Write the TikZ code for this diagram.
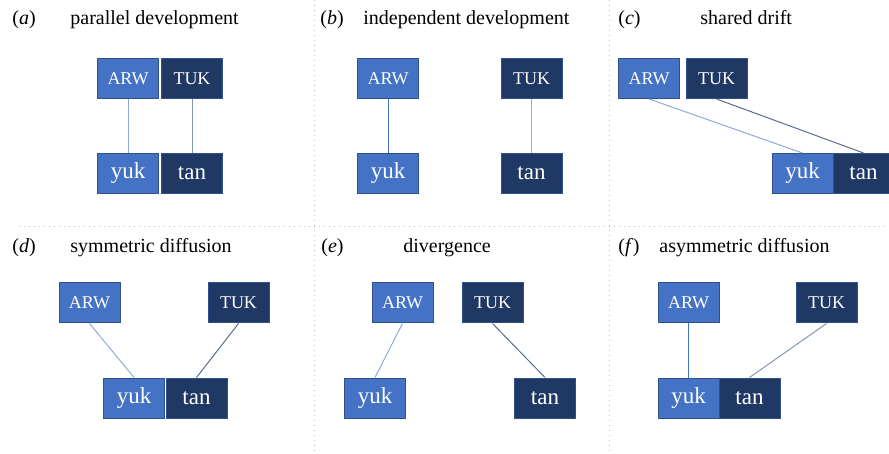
\documentclass[tikz,border=0pt]{standalone}
\usepackage{fontspec}
\setmainfont{Liberation Serif}
\usepackage{tikz}

\definecolor{arwblue}{HTML}{4472C4}
\definecolor{tuknavy}{HTML}{203864}
\definecolor{boxedge}{HTML}{2F528F}
\definecolor{lightline}{HTML}{8FAADC}
\definecolor{greyline}{HTML}{8497B0}
\definecolor{darkline}{HTML}{5A6B8C}
\definecolor{divider}{HTML}{BFBFBF}

\begin{document}
\begin{tikzpicture}[x=0.5pt,y=-0.5pt,
	lang/.style={draw=boxedge, line width=0.5pt, text=white, inner sep=0pt,
		minimum width=30.5pt, minimum height=20pt},
	old/.style={lang, font=\fontsize{9}{10}\selectfont},
	new/.style={lang, font=\fontsize{11.5}{12}\selectfont},
	arw/.style={fill=arwblue},
	tuk/.style={fill=tuknavy},
	panel/.style={anchor=base west, inner sep=0pt, font=\fontsize{10}{12}\selectfont},
	link/.style={line width=0.5pt}]
	\useasboundingbox (0,0) rectangle (889,454);

	% Dividers
	\draw[divider, dotted, line width=0.5pt] (314,0) -- (314,454);
	\draw[divider, dotted, line width=0.5pt] (609,0) -- (609,454);
	\draw[divider, dotted, line width=0.5pt] (19,227) -- (889,227);

	% Panel (a)
	\node[panel] (labA) at (12,25) {(\textit{a})};
	\node[panel] (titA) at (70,25) {parallel development};
	\node[old, arw] (arwA) at (128,78.5) {ARW};
	\node[old, tuk] (tukA) at (192,78.5) {TUK};
	\node[new, arw] (yukA) at (128,173.5) {yuk};
	\node[new, tuk] (tanA) at (192,173.5) {tan};
	\draw[link, lightline] (arwA) -- (yukA);
	\draw[link, greyline] (tukA) -- (tanA);

	% Panel (b)
	\node[panel] (labB) at (320,25) {(\textit{b})};
	\node[panel] (titB) at (363,25) {independent development};
	\node[old, arw] (arwB) at (388,78.5) {ARW};
	\node[old, tuk] (tukB) at (531.5,78.5) {TUK};
	\node[new, arw] (yukB) at (388,173.5) {yuk};
	\node[new, tuk] (tanB) at (531.5,173.5) {tan};
	\draw[link, arwblue] (arwB) -- (yukB);
	\draw[link, greyline!80] (tukB) -- (tanB);

	% Panel (c)
	\node[panel] (labC) at (618,25) {(\textit{c})};
	\node[panel] (titC) at (700,25) {shared drift};
	\node[old, arw] (arwC) at (649,78.5) {ARW};
	\node[old, tuk] (tukC) at (716.5,78.5) {TUK};
	\node[new, arw] (yukC) at (802.5,173.5) {yuk};
	\node[new, tuk] (tanC) at (863.5,173.5) {tan};
	\draw[link, lightline] (arwC.south) -- (yukC.north);
	\draw[link, darkline] (tukC.south) -- (tanC.north);

	% Panel (d)
	\node[panel] (labD) at (12,253) {(\textit{d})};
	\node[panel] (titD) at (70,253) {symmetric diffusion};
	\node[old, arw] (arwD) at (89.5,303) {ARW};
	\node[old, tuk] (tukD) at (238.5,303) {TUK};
	\node[new, arw] (yukD) at (134,398) {yuk};
	\node[new, tuk] (tanD) at (196.5,398) {tan};
	\draw[link, lightline] (arwD.south) -- (yukD.north);
	\draw[link, darkline] (tukD.south) -- (tanD.north);

	% Panel (e)
	\node[panel] (labE) at (321,253) {(\textit{e})};
	\node[panel] (titE) at (403,253) {divergence};
	\node[old, arw] (arwE) at (402.5,303) {ARW};
	\node[old, tuk] (tukE) at (492.5,303) {TUK};
	\node[new, arw] (yukE) at (375,398) {yuk};
	\node[new, tuk] (tanE) at (545,398) {tan};
	\draw[link, lightline] (arwE.south) -- (yukE.north);
	\draw[link, darkline] (tukE.south) -- (tanE.north);

	% Panel (f)
	\node[panel] (labF) at (618,253) {(\textit{f})};
	\node[panel] (titF) at (659,253) {asymmetric diffusion};
	\node[old, arw] (arwF) at (688.5,303) {ARW};
	\node[old, tuk] (tukF) at (826.5,303) {TUK};
	\node[new, arw] (yukF) at (688.5,398) {yuk};
	\node[new, tuk] (tanF) at (749.5,398) {tan};
	\draw[link, arwblue] (arwF) -- (yukF);
	\draw[link, greyline] (tukF.south) -- (tanF.north);

\end{tikzpicture}
\end{document}
